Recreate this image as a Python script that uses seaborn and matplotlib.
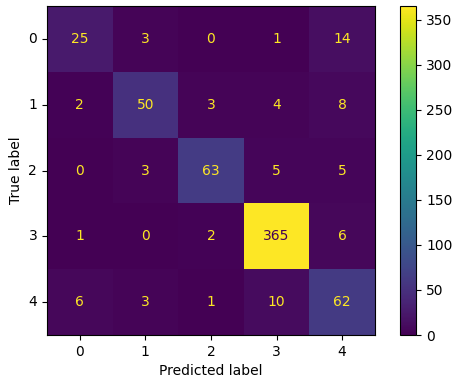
import numpy as np
import pandas as pd
import matplotlib
matplotlib.use("Agg")
import matplotlib.pyplot as plt
import seaborn as sns

labels = ["0", "1", "2", "3", "4"]
row0 = [25, 3, 0, 1, 14]
row1 = [2, 50, 3, 4, 8]
row2 = [0, 3, 63, 5, 5]
row3 = [1, 0, 2, 365, 6]
row4 = [6, 3, 1, 10, 62]

cm = pd.DataFrame([row0, row1, row2, row3, row4], index=labels, columns=labels)

fig = plt.figure(figsize=(4.6, 3.82), dpi=100)
ax = fig.add_axes([0.102, 0.123, 0.713, 0.861])
cax = fig.add_axes([0.870, 0.123, 0.035, 0.861])

cmap = plt.get_cmap("viridis")
sns.heatmap(cm, ax=ax, cbar_ax=cax, cmap=cmap, annot=True, fmt="d",
            annot_kws={"fontsize": 10}, square=False)

# sklearn-style text colours: light text on dark cells, dark text on bright ones
vmin, vmax = cm.values.min(), cm.values.max()
thresh = (vmax + vmin) / 2.0
for txt, v in zip(ax.texts, cm.values.ravel()):
    txt.set_color(cmap(256) if v < thresh else cmap(0))

ax.set_xlabel("Predicted label", fontsize=10)
ax.set_ylabel("True label", fontsize=10)
ax.tick_params(axis="both", labelsize=10, length=3.5, width=0.8, rotation=0)
for s in ax.spines.values():
    s.set_visible(True)
    s.set_linewidth(0.8)

cb = ax.collections[0].colorbar
cb.outline.set_visible(True)
cb.outline.set_linewidth(0.8)
cb.set_ticks([0, 50, 100, 150, 200, 250, 300, 350])
cax.tick_params(labelsize=10, length=3.5, width=0.8)

fig.savefig("out.png", dpi=100)
